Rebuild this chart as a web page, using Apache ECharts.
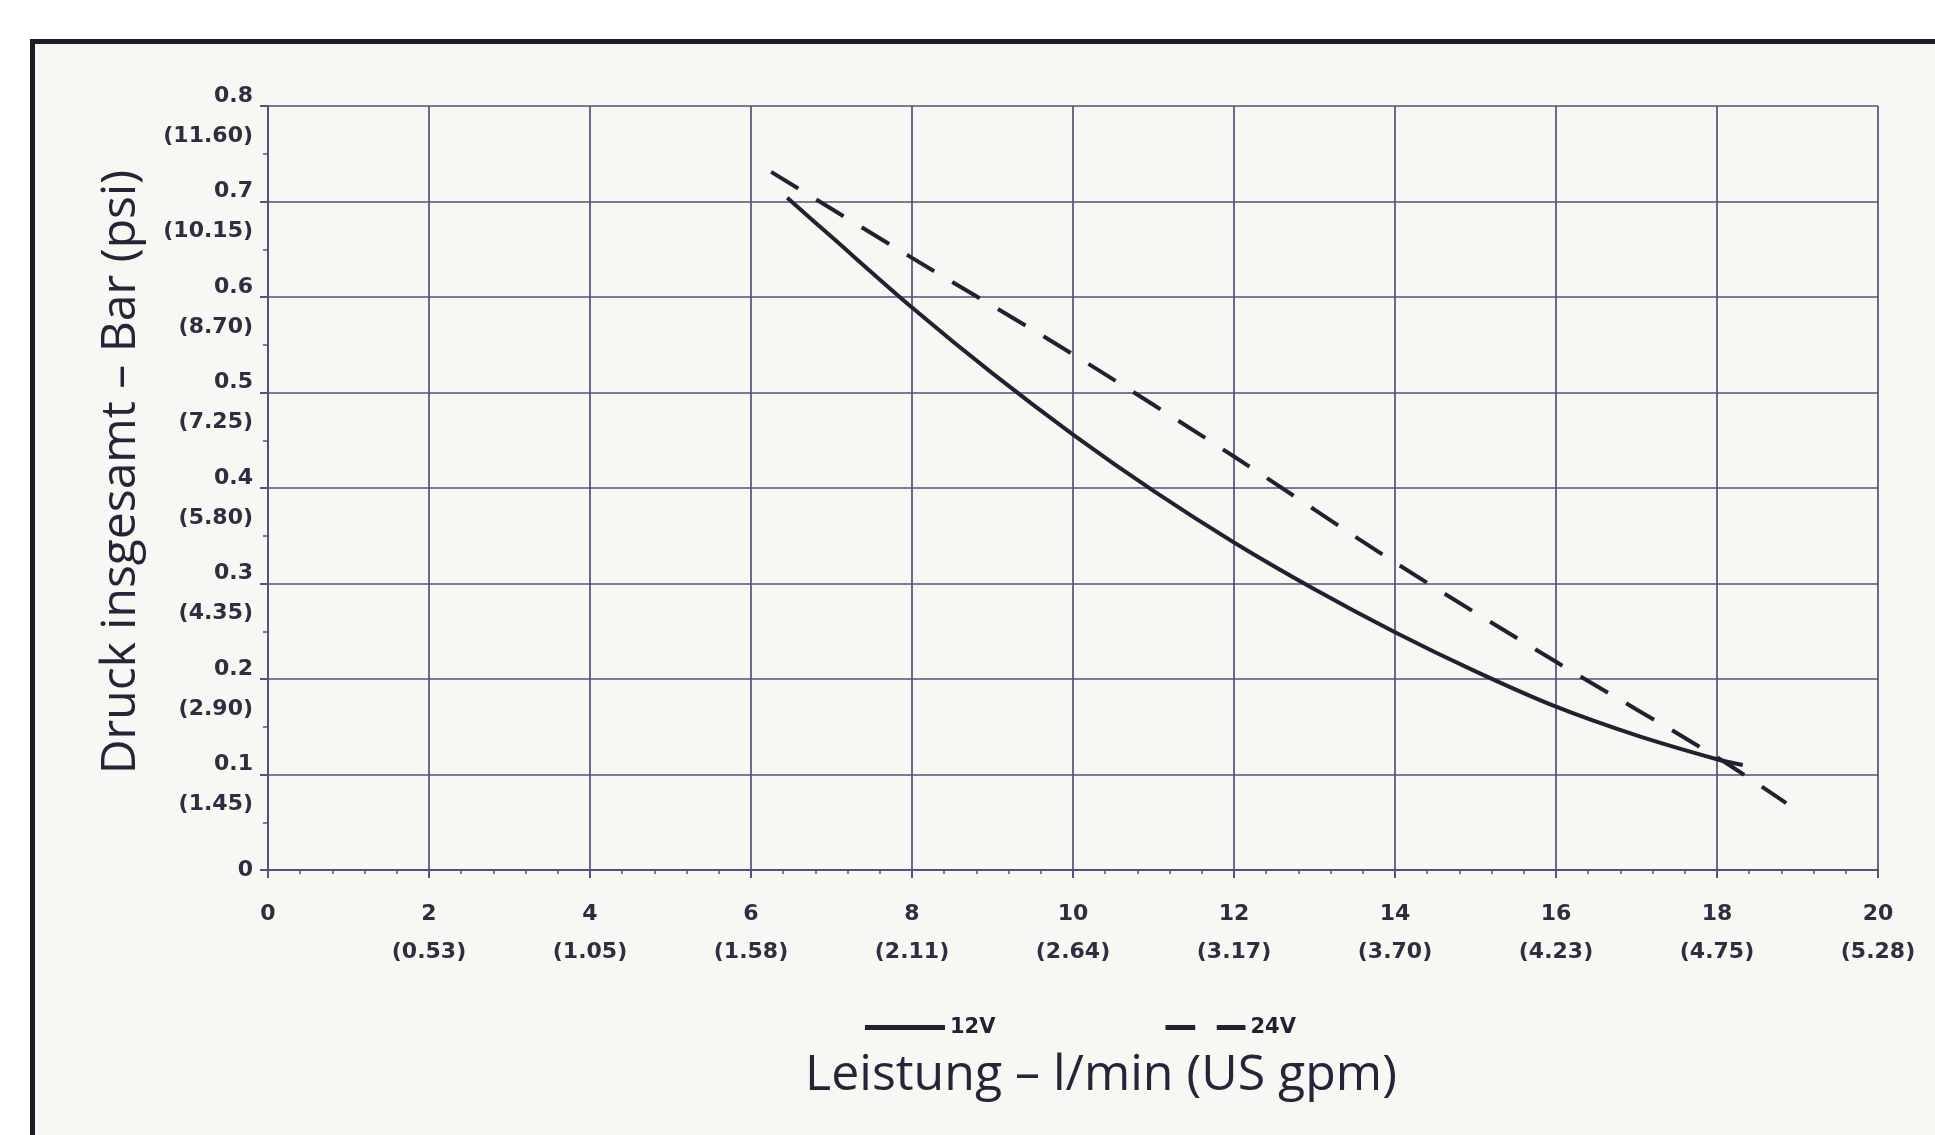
<!DOCTYPE html>
<html>
<head>
<meta charset="utf-8">
<script src="https://cdn.jsdelivr.net/npm/echarts@6/dist/echarts.min.js"></script>
<style>
  html, body { margin: 0; padding: 0; background: #ffffff; }
  #frame { position: absolute; left: 30px; top: 39px; width: 1905px; height: 1096px;
           border-top: 5px solid #1d1d2a; border-left: 5px solid #1d1d2a; background: #f7f7f4; box-sizing: border-box; }
  #chart { position: absolute; left: 0; top: 0; width: 1935px; height: 1135px; }
</style>
</head>
<body>
<div id="frame"></div>
<div id="chart"></div>
<script>
// ---- data ----
const flow12V     = [6.45, 7, 8, 9, 10, 11, 12, 13, 14, 15, 16, 17, 18, 18.32];
const pressure12V = [0.704, 0.663, 0.589, 0.520, 0.456, 0.397, 0.343, 0.294, 0.249, 0.208, 0.171, 0.141, 0.116, 0.110];

const flow24V     = [6.25, 8, 10, 12, 14, 16, 18, 18.86];
const pressure24V = [0.731, 0.641, 0.540, 0.433, 0.322, 0.218, 0.118, 0.070];

const xGpmLabels = ['', '(0.53)', '(1.05)', '(1.58)', '(2.11)', '(2.64)', '(3.17)', '(3.70)', '(4.23)', '(4.75)', '(5.28)'];
const yPsiLabels = ['', '(1.45)', '(2.90)', '(4.35)', '(5.80)', '(7.25)', '(8.70)', '(10.15)', '(11.60)'];

const seriesNames = ['12V', '24V'];
const xTitle = 'Leistung – l/min (US gpm)';
const yTitle = 'Druck insgesamt – Bar (psi)';

// ---- chart ----
const ink = '#1f2230';
const gridCol = '#52527a';
const labelCol = '#2e2e40';
const tickFont = 'DejaVu Sans';

const chart = echarts.init(document.getElementById('chart'), null, { renderer: 'canvas' });

const option = {
  backgroundColor: 'transparent',
  animation: false,
  grid: { left: 268, right: 57, top: 106, bottom: 265, containLabel: false },
  xAxis: {
    type: 'value', min: 0, max: 20, interval: 2,
    axisLine: { show: true, onZero: false, lineStyle: { color: gridCol, width: 2 } },
    axisTick: { show: true, inside: false, length: 8, lineStyle: { color: gridCol, width: 2 } },
    minorTick: { show: true, splitNumber: 5, length: 4, lineStyle: { color: gridCol, width: 1.5 } },
    splitLine: { show: true, lineStyle: { color: gridCol, width: 1.7 } },
    axisLabel: {
      margin: 25,
      color: labelCol,
      fontFamily: tickFont,
      fontWeight: 'bold',
      fontSize: 22,
      lineHeight: 38,
      formatter: function (v) {
        const i = Math.round(v / 2);
        const g = xGpmLabels[i];
        return g ? (v + '\n' + g) : String(v);
      }
    }
  },
  yAxis: {
    type: 'value', min: 0, max: 0.8, interval: 0.1,
    axisLine: { show: true, onZero: false, lineStyle: { color: gridCol, width: 2 } },
    axisTick: { show: true, inside: false, length: 8, lineStyle: { color: gridCol, width: 2 } },
    minorTick: { show: true, splitNumber: 2, length: 5, lineStyle: { color: gridCol, width: 1.5 } },
    splitLine: { show: true, lineStyle: { color: gridCol, width: 1.7 } },
    axisLabel: {
      margin: 15,
      color: labelCol,
      fontFamily: tickFont,
      fontWeight: 'bold',
      fontSize: 22,
      align: 'right',
      formatter: function (v) {
        const i = Math.round(v * 10);
        if (i === 0) return '{z|0}';
        return '{a|' + (i / 10).toFixed(1) + '}\n{b|' + yPsiLabels[i] + '}';
      },
      rich: {
        a: { fontFamily: tickFont, fontWeight: 'bold', fontSize: 22, color: labelCol, lineHeight: 60, align: 'right' },
        b: { fontFamily: tickFont, fontWeight: 'bold', fontSize: 22, color: labelCol, lineHeight: 20, align: 'right' },
        z: { fontFamily: tickFont, fontWeight: 'bold', fontSize: 22, color: labelCol, lineHeight: 20, align: 'right' }
      }
    }
  },
  legend: {
    show: true,
    left: 860, top: 1012,
    itemWidth: 80, itemHeight: 5,
    itemGap: 170,
    symbolKeepAspect: false,
    itemStyle: { color: ink, borderWidth: 0 },
    lineStyle: { width: 0 },
    textStyle: { fontFamily: tickFont, fontWeight: 'bold', fontSize: 21, color: ink },
    data: [
      { name: seriesNames[0], icon: 'path://M0,0H80V5H0Z' },
      { name: seriesNames[1], icon: 'path://M0,0H29V5H0ZM50,0H78V5H50Z' }
    ]
  },
  series: [
    {
      name: seriesNames[0], type: 'line', symbol: 'none', smooth: 0.3,
      lineStyle: { color: ink, width: 4, type: 'solid' },
      itemStyle: { color: ink },
      data: flow12V.map((x, i) => [x, pressure12V[i]])
    },
    {
      name: seriesNames[1], type: 'line', symbol: 'none', smooth: 0.3,
      lineStyle: { color: ink, width: 4, type: [32, 21] },
      itemStyle: { color: ink },
      data: flow24V.map((x, i) => [x, pressure24V[i]])
    }
  ],
  graphic: [
    {
      type: 'text', x: 1101, y: 1076,
      style: { text: xTitle, x: 0, y: 0, align: 'center', verticalAlign: 'middle',
               font: '50px "Open Sans"', fill: '#25253a' }
    },
    {
      type: 'text', x: 121, y: 472, rotation: Math.PI / 2,
      style: { text: yTitle, x: 0, y: 0, align: 'center', verticalAlign: 'middle',
               font: '48px "Open Sans"', fill: '#25253a' }
    }
  ]
};

chart.setOption(option);
</script>
</body>
</html>
